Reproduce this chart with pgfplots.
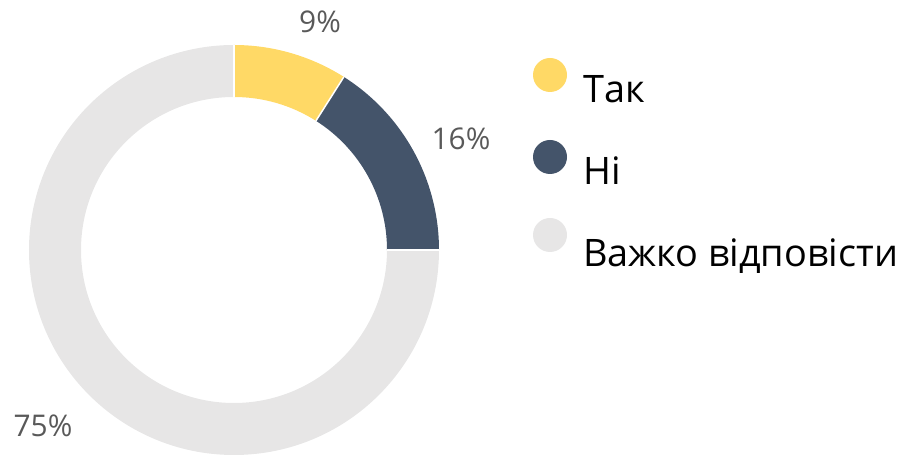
\documentclass[border=0pt]{standalone}
\usepackage{pgfplots}
\pgfplotsset{compat=1.18}
\usepackage{pgfplotstable}
\usepackage{fontspec}
\setmainfont{Open Sans}

\definecolor{cyes}{HTML}{FFD966}
\definecolor{cno}{HTML}{44546A}
\definecolor{chard}{HTML}{E7E6E6}
\definecolor{clabel}{HTML}{595959}

% shares in percent: Так, Ні, Важко відповісти
\pgfplotstableread{
share
9
16
75
}\sharetable

% ring centre and radii (bp)
\def\cx{234}\def\cy{207}\def\ro{205}\def\ri{153}

\newcommand\ringpart[3]{%
  \fill[#1] (axis cs:{\cx+\ro*cos(#2)},{\cy+\ro*sin(#2)})
    arc[start angle=#2, end angle=#3, radius=\ro bp]
    -- (axis cs:{\cx+\ri*cos(#3)},{\cy+\ri*sin(#3)})
    arc[start angle=#3, end angle=#2, radius=\ri bp] -- cycle;}
\newcommand\gap[1]{%
  \draw[white, line width=1.5bp] (axis cs:{\cx+\ri*cos(#1)},{\cy+\ri*sin(#1)})
    -- (axis cs:{\cx+\ro*cos(#1)},{\cy+\ro*sin(#1)});}

\begin{document}
\begin{tikzpicture}
\pgfplotstablegetelem{0}{share}\of\sharetable\let\va\pgfplotsretval
\pgfplotstablegetelem{1}{share}\of\sharetable\let\vb\pgfplotsretval
\pgfplotstablegetelem{2}{share}\of\sharetable\let\vc\pgfplotsretval
\pgfmathsetmacro\aA{90}
\pgfmathsetmacro\aB{\aA-3.6*\va}
\pgfmathsetmacro\aC{\aB-3.6*\vb}
\pgfmathsetmacro\aD{\aC-3.6*\vc}
\begin{axis}[
    x=1bp, y=1bp,
    xmin=0, xmax=911, ymin=0, ymax=457,
    hide axis, clip=false,
]
\path (axis cs:0,0) rectangle (axis cs:911,457);
\ringpart{cyes}{\aA}{\aB}
\ringpart{cno}{\aB}{\aC}
\ringpart{chard}{\aC}{\aD}
\gap{\aA}\gap{\aB}\gap{\aC}
% percentage labels
\node[clabel, font=\fontsize{30}{32}\selectfont, anchor=base] at (axis cs:320,424) {9\%};
\node[clabel, font=\fontsize{30}{32}\selectfont, anchor=base] at (axis cs:461,307) {16\%};
\node[clabel, font=\fontsize{30}{32}\selectfont, anchor=base] at (axis cs:43,20) {75\%};
% legend
\fill[cyes] (axis cs:550,382) circle (17bp);
\fill[cno] (axis cs:550,300) circle (17bp);
\fill[chard] (axis cs:550,222) circle (17bp);
\node[font=\fontsize{38}{40}\selectfont, anchor=base west, inner sep=0pt] at (axis cs:583,354) {Так};
\node[font=\fontsize{38}{40}\selectfont, anchor=base west, inner sep=0pt] at (axis cs:583,272) {Ні};
\node[font=\fontsize{38}{40}\selectfont, anchor=base west, inner sep=0pt] at (axis cs:583,190) {Важко відповісти};
\end{axis}
\end{tikzpicture}
\end{document}
